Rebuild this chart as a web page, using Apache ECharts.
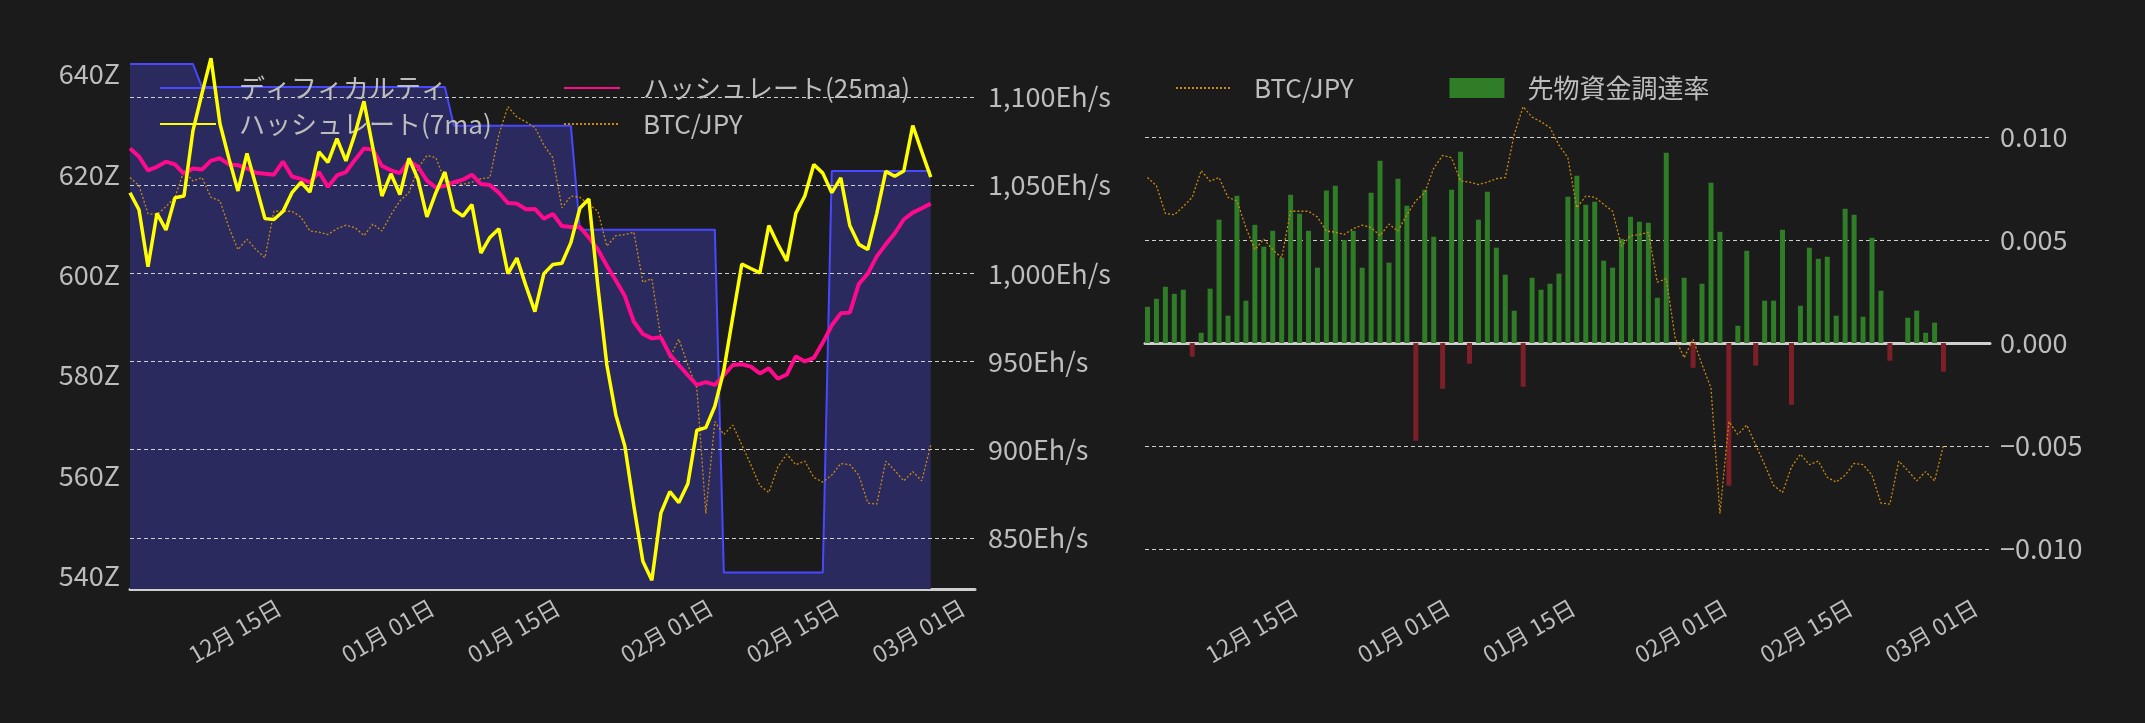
<!DOCTYPE html>
<html>
<head>
<meta charset="utf-8">
<script src="https://cdn.jsdelivr.net/npm/echarts@6/dist/echarts.min.js"></script>
<style>
html,body{margin:0;padding:0;background:#1b1b1b;}
#main{width:2145px;height:723px;}
</style>
</head>
<body>
<div id="main"></div>
<script>
// 日付 (12/03 から毎日 90 点)
var startDate = '2025-12-03T08:00:00';
var dayCount = 90;

// ディフィカルティ (Z)
var difficulty = [
  642,642,642,642,642,642,642,642,637.4,637.4,
  637.4,637.4,637.4,637.4,637.4,637.4,637.4,637.4,637.4,637.4,
  637.4,637.4,637.4,637.4,637.4,637.4,637.4,637.4,637.4,637.4,
  637.4,637.4,637.4,637.4,637.4,637.4,629.7,629.7,629.7,629.7,
  629.7,629.7,629.7,629.7,629.7,629.7,629.7,629.7,629.7,629.7,
  609,609,609,609,609,609,609,609,609,609,
  609,609,609,609,609,609,540.7,540.7,540.7,540.7,
  540.7,540.7,540.7,540.7,540.7,540.7,540.7,540.7,620.7,620.7,
  620.7,620.7,620.7,620.7,620.7,620.7,620.7,620.7,620.7,620.7
];
// ハッシュレート(7ma) Eh/s
var hash7 = [
  1045.7,1036,1003.7,1034,1024.6,1042.8,1043.8,1080.9,1102,1122,
  1084.8,1065,1046.7,1068,1049.6,1031,1030.5,1035,1045.7,1051.6,
  1046,1068.8,1062.9,1076.4,1063.7,1079,1097.5,1071,1043.8,1056.4,
  1044.7,1065.2,1053.5,1032,1045.7,1057.4,1036,1032.4,1038.9,1011.5,
  1020.3,1025.2,999.8,1008.6,993,978.3,999.8,1005,1005.7,1017.4,
  1036.9,1042.2,992.6,948,919.7,902,868,836.7,826,864,
  876.2,870,880.7,911,912.5,924.6,945,975.4,1005.3,1002.7,
  1000.2,1027.1,1016.4,1007,1034,1043.8,1061.7,1056.8,1045.7,1054.1,
  1027.1,1016.4,1013.5,1034,1057.8,1055,1058,1083.8,1069,1054.5
];
// ハッシュレート(25ma) Eh/s
var hash25 = [
  1070.7,1066.2,1058.4,1060.4,1063.3,1061.7,1056.4,1059.4,1058.8,1063.9,
  1065.2,1061.7,1061.3,1059.4,1057,1056.4,1055.9,1063.3,1054.9,1053.5,
  1051.6,1057.4,1049,1055.5,1057.4,1064.3,1070.7,1070.1,1060.9,1058.4,
  1056.8,1063.7,1060.4,1052.5,1048.6,1049.6,1051.6,1053.1,1055.9,1050.6,
  1050,1045.7,1039.8,1039.5,1036.3,1036.5,1031,1033.6,1026.8,1026.2,
  1026.2,1020.3,1013.5,1004.3,995.9,987.1,972.5,965.6,963.1,963.7,
  953.9,948,942.2,936.7,938.3,936.7,942.2,948,948.4,947.1,
  943.2,946.1,940.2,942.6,952.9,950,952,960.7,970.5,977.3,
  977.7,993.9,999.8,1009.6,1016.4,1022.7,1030.5,1034.4,1036.9,1039.5
];
// BTC/JPY (万円)
var btcJpy = [
  1439,1432,1408,1407,1414,1422,1445,1436,1439,1422,
  1419,1396,1377,1386,1377,1370,1410,1410,1410,1405,
  1393,1392,1390,1395,1398,1396,1389,1399,1393,1407,
  1419,1426,1447,1458,1456,1436,1435,1433,1435,1438,
  1439,1476,1500,1491,1487,1482,1467,1456,1413,1423,
  1422,1416,1410,1380,1389,1390,1392,1349,1352,1301,
  1284,1300,1278,1258,1150,1229,1218,1226,1209,1192,
  1174,1168,1190,1201,1192,1195,1181,1177,1183,1193,
  1192,1183,1159,1158,1195,1187,1178,1186,1178,1209
];
// 先物資金調達率
var funding = [
  0.00176,0.00215,0.00273,0.00239,0.00259,-0.00066,0.0005,0.00264,0.00599,0.00133,
  0.00715,0.00206,0.00574,0.00468,0.00545,0.00414,0.0072,0.00628,0.00545,0.00366,
  0.0074,0.00764,0.005,0.00545,0.00366,0.0073,0.00885,0.0039,0.00798,0.00667,
  -0.00474,0.00744,0.00516,-0.00222,0.00744,0.00929,-0.001,0.00599,0.00735,0.00463,
  0.00332,0.00157,-0.00212,0.00317,0.00259,0.00288,0.00337,0.0071,0.00812,0.00672,
  0.00686,0.004,0.00366,0.00506,0.00613,0.00589,0.00584,0.0022,0.00924,0,
  0.00317,-0.0012,0.00288,0.00778,0.0054,-0.00693,0.00084,0.00448,-0.0011,0.00206,
  0.00206,0.0055,-0.003,0.00181,0.00463,0.00409,0.00419,0.00133,0.00652,0.00623,
  0.00128,0.00511,0.00254,-0.00086,0,0.00123,0.00157,0.0005,0.00099,-0.00139
];
var dateTicks = ['2025-12-15','2026-01-01','2026-01-15','2026-02-01','2026-02-15','2026-03-01'];
var diffTicks = [540,560,580,600,620,640];
var hashTicks = [850,900,950,1000,1050,1100];
var fundTicks = [-0.01,-0.005,0,0.005,0.01];

var FONT = 'Noto Sans CJK JP';
var TXT = '#bdbdbd';
var t0 = new Date(startDate).getTime();
var dates = [];
for (var i = 0; i < dayCount; i++) dates.push(t0 + i * 86400000);
var xMin = t0;
var xMax = new Date('2026-03-07T06:00:00').getTime();
var tickTimes = dateTicks.map(function (d) { return new Date(d + 'T00:00:00').getTime(); });

function pair(arr) {
    return arr.map(function (v, i) { return [dates[i], v]; });
}
var fundData = funding.map(function (v, i) {
    var it = { value: [dates[i], v] };
    if (v < 0) it.itemStyle = { color: '#7d1f27' };
    return it;
});

function xAxisOf(gi) {
    return {
        type: 'time', gridIndex: gi, min: xMin, max: xMax,
        axisLine: { lineStyle: { color: '#cfcfcf', width: 3 } },
        axisTick: { show: false },
        splitLine: { show: false },
        axisLabel: {
            customValues: tickTimes, rotate: 30, align: 'center', verticalAlign: 'middle',
            margin: 42, color: TXT, fontSize: 23, fontFamily: FONT,
            formatter: '{MM}月 {dd}日'
        }
    };
}
function minusFmt(v) {
    var s = Math.abs(v).toFixed(3);
    return (v < -1e-9 ? '\u2212' : '') + s;
}
var legendText = { color: TXT, fontSize: 26, fontFamily: FONT, padding: [0, 0, 0, 18] };
var noDot = { color: 'transparent', borderColor: 'transparent', borderWidth: 0 };

var option = {
    backgroundColor: '#1b1b1b',
    animation: false,
    textStyle: { fontFamily: FONT },
    grid: [
        { left: 130, right: 1170, top: 59, bottom: 134 },
        { left: 1145, right: 155, top: 59, bottom: 134 }
    ],
    legend: [
        {
            orient: 'vertical', left: 154, top: 70, itemGap: 10,
            itemWidth: 56, itemHeight: 14, itemStyle: noDot,
            textStyle: legendText,
            data: ['ディフィカルティ', 'ハッシュレート(7ma)']
        },
        {
            orient: 'vertical', left: 558, top: 70, itemGap: 10,
            itemWidth: 56, itemHeight: 14, itemStyle: noDot,
            textStyle: legendText,
            data: ['ハッシュレート(25ma)', 'BTC/JPY']
        },
        {
            orient: 'horizontal', left: 1170, top: 70, itemGap: 90,
            itemWidth: 55, itemHeight: 20,
            textStyle: legendText,
            data: [{ name: 'BTC/JPY ', itemStyle: noDot }, { name: '先物資金調達率', icon: 'rect' }]
        }
    ],
    xAxis: [xAxisOf(0), xAxisOf(1)],
    yAxis: [
        {
            gridIndex: 0, type: 'value', position: 'left', min: 537.4, max: 643,
            axisLine: { show: false }, axisTick: { show: false }, splitLine: { show: false },
            axisLabel: { customValues: diffTicks, color: TXT, fontSize: 27, fontFamily: FONT, margin: 10, formatter: '{value}Z' }
        },
        {
            gridIndex: 0, type: 'value', position: 'right', min: 821, max: 1121.5, z: 2,
            axisLine: { show: false }, axisTick: { show: false, customValues: hashTicks },
            splitLine: { show: true, lineStyle: { color: '#d0d0d0', type: [4, 3], width: 1 } },
            axisLabel: {
                customValues: hashTicks, color: TXT, fontSize: 27, fontFamily: FONT, margin: 13,
                formatter: function (v) { return v.toLocaleString('en-US') + 'Eh/s'; }
            }
        },
        {
            gridIndex: 0, type: 'value', min: 1085, max: 1541, show: false
        },
        {
            gridIndex: 1, type: 'value', position: 'right', min: -0.01194, max: 0.01379, z: 2,
            axisLine: { show: false }, axisTick: { show: false, customValues: fundTicks },
            splitLine: { show: true, lineStyle: { color: '#d0d0d0', type: [4, 3], width: 1 } },
            axisLabel: { customValues: fundTicks, color: TXT, fontSize: 27, fontFamily: FONT, margin: 10, formatter: minusFmt }
        },
        {
            gridIndex: 1, type: 'value', min: 1085, max: 1541, show: false
        }
    ],
    series: [
        {
            name: 'ディフィカルティ', type: 'line', xAxisIndex: 0, yAxisIndex: 0, z: 1,
            symbol: 'none', data: pair(difficulty),
            lineStyle: { color: '#4848ff', width: 2 }, itemStyle: { color: '#4848ff' },
            areaStyle: { color: '#2a2a5e', opacity: 1, origin: 'start' }
        },
        {
            name: 'BTC/JPY', type: 'line', xAxisIndex: 0, yAxisIndex: 2, z: 3,
            symbol: 'none', data: pair(btcJpy),
            lineStyle: { color: '#c98a12', width: 1.3, type: [2, 2] }, itemStyle: { color: '#c98a12' }
        },
        {
            name: 'ハッシュレート(25ma)', type: 'line', xAxisIndex: 0, yAxisIndex: 1, z: 4,
            symbol: 'none', data: pair(hash25),
            lineStyle: { color: '#ff0a8c', width: 4 }, itemStyle: { color: '#ff0a8c' }
        },
        {
            name: 'ハッシュレート(7ma)', type: 'line', xAxisIndex: 0, yAxisIndex: 1, z: 5,
            symbol: 'none', data: pair(hash7),
            lineStyle: { color: '#ffff00', width: 3.5 }, itemStyle: { color: '#ffff00' }
        },
        {
            name: '先物資金調達率', type: 'bar', xAxisIndex: 1, yAxisIndex: 3, z: 3,
            barWidth: 5, data: fundData,
            itemStyle: { color: '#2f7d27' }
        },
        {
            name: 'BTC/JPY ', type: 'line', xAxisIndex: 1, yAxisIndex: 4, z: 4,
            symbol: 'none', data: pair(btcJpy),
            lineStyle: { color: '#c98a12', width: 1.3, type: [2, 2] }, itemStyle: { color: '#c98a12' }
        }
    ]
};

var chart = echarts.init(document.getElementById('main'));
chart.setOption(option);
</script>
</body>
</html>
